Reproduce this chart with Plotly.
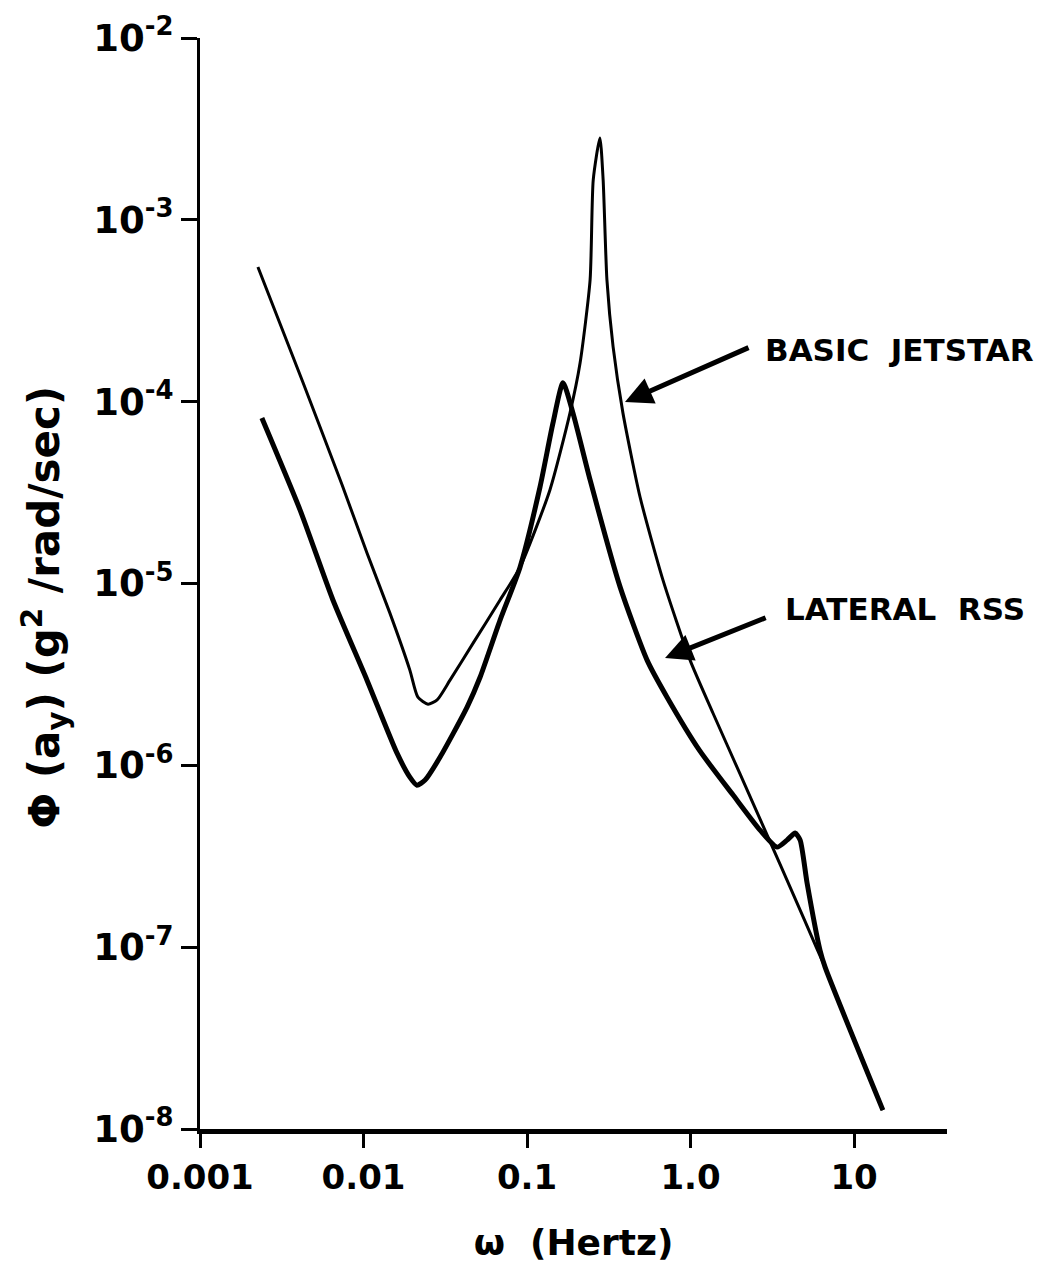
import numpy as np
import plotly.graph_objects as go

# BASIC JETSTAR (thin curve)
jet_freq = [0.00226, 0.00427, 0.0074, 0.0105, 0.0145, 0.0192, 0.0215, 0.0248, 0.0282, 0.0338,
            0.0468, 0.0684, 0.0906, 0.138, 0.183, 0.211, 0.243, 0.254, 0.279, 0.292,
            0.308, 0.336, 0.386, 0.491, 0.679, 0.993, 1.37, 2.01, 2.94, 4.24,
            5.94, 6.65, 15.0]
jet_psd = [5.5e-4, 1.27e-4, 3.48e-5, 1.47e-5, 6.87e-6, 3.34e-6, 2.37e-6, 2.17e-6, 2.29e-6, 2.94e-6,
           4.70e-6, 8.11e-6, 1.23e-5, 3.27e-5, 8.65e-5, 1.63e-4, 4.67e-4, 1.66e-3, 2.82e-3, 1.66e-3,
           4.67e-4, 2.0e-4, 8.65e-5, 2.99e-5, 1.04e-5, 3.79e-6, 1.94e-6, 8.94e-7, 4.13e-7, 1.96e-7,
           9.75e-8, 7.76e-8, 1.27e-8]

# LATERAL RSS (thick curve)
rss_freq = [0.00239, 0.00409, 0.0065, 0.0105, 0.016, 0.0192, 0.0212, 0.0238, 0.0294, 0.043,
            0.0516, 0.0684, 0.0906, 0.120, 0.144, 0.166, 0.191, 0.243, 0.371, 0.542,
            0.718, 1.14, 1.82, 2.66, 3.38, 3.89, 4.36, 4.68, 5.16, 6.19,
            6.65, 15.0]
rss_psd = [8.13e-5, 2.54e-5, 8.11e-6, 2.94e-6, 1.17e-6, 8.61e-7, 7.78e-7, 8.30e-7, 1.11e-6, 2.09e-6,
           3.05e-6, 6.29e-6, 1.23e-5, 3.39e-5, 7.62e-5, 1.27e-4, 8.65e-5, 3.71e-5, 9.55e-6, 3.79e-6,
           2.37e-6, 1.2e-6, 6.86e-7, 4.40e-7, 3.55e-7, 3.88e-7, 4.24e-7, 3.88e-7, 2.25e-7, 9.62e-8,
           7.76e-8, 1.27e-8]

x_tick_vals = [0.001, 0.01, 0.1, 1.0, 10]
x_tick_text = ["0.001", "0.01", "0.1", "1.0", "10"]
y_tick_vals = [1e-2, 1e-3, 1e-4, 1e-5, 1e-6, 1e-7, 1e-8]
y_tick_text = ["10<sup>-2</sup>", "10<sup>-3</sup>", "10<sup>-4</sup>", "10<sup>-5</sup>",
               "10<sup>-6</sup>", "10<sup>-7</sup>", "10<sup>-8</sup>"]

FONT = "DejaVu Sans, Arial"

fig = go.Figure()
fig.add_trace(go.Scatter(x=jet_freq, y=jet_psd, mode="lines", name="BASIC JETSTAR",
                         line=dict(color="black", width=3, shape="spline", smoothing=0.6)))
fig.add_trace(go.Scatter(x=rss_freq, y=rss_psd, mode="lines", name="LATERAL RSS",
                         line=dict(color="black", width=5, shape="spline", smoothing=0.6)))

L = np.log10
# arrows
fig.add_annotation(x=L(0.397), y=L(9.95e-5), ax=L(2.31), ay=L(2.0e-4),
                   xref="x", yref="y", axref="x", ayref="y", text="",
                   showarrow=True, arrowhead=2, arrowsize=1.1, arrowwidth=5, arrowcolor="black")
fig.add_annotation(x=L(0.698), y=L(3.89e-6), ax=L(2.94), ay=L(6.53e-6),
                   xref="x", yref="y", axref="x", ayref="y", text="",
                   showarrow=True, arrowhead=2, arrowsize=1.1, arrowwidth=5, arrowcolor="black")
# labels
fig.add_annotation(x=L(2.77), y=L(1.92e-4), xref="x", yref="y", text="BASIC  JETSTAR",
                   showarrow=False, xanchor="left", yanchor="middle",
                   font=dict(family=FONT, size=31, color="black", weight="bold"))
fig.add_annotation(x=L(3.68), y=L(7.23e-6), xref="x", yref="y", text="LATERAL  RSS",
                   showarrow=False, xanchor="left", yanchor="middle",
                   font=dict(family=FONT, size=31, color="black", weight="bold"))
# y-axis title
fig.add_annotation(x=-0.2075, y=0.479, xref="paper", yref="paper",
                   text="Φ (a<sub>y</sub>) (g<sup>2</sup> /rad/sec)", textangle=-90,
                   showarrow=False, xanchor="center", yanchor="middle",
                   font=dict(family=FONT, size=42, color="black", weight="bold"))

fig.update_layout(
    width=1049, height=1276,
    margin=dict(l=192, r=110, t=30, b=155),
    paper_bgcolor="white", plot_bgcolor="white",
    showlegend=False,
    font=dict(family=FONT, color="black", size=34, weight="bold"),
    xaxis=dict(type="log", range=[-3, L(37)], showgrid=False, zeroline=False,
               showline=True, linewidth=5, linecolor="black", automargin=False,
               ticks="outside", ticklen=14, tickwidth=3, tickcolor="black",
               tickvals=x_tick_vals, ticktext=x_tick_text,
               tickfont=dict(family=FONT, size=34, weight="bold"),
               title=dict(text="ω  (Hertz)", standoff=36,
                          font=dict(family=FONT, size=36, weight="bold"))),
    yaxis=dict(type="log", range=[-8, -2], showgrid=False, zeroline=False,
               showline=True, linewidth=3, linecolor="black", automargin=False,
               ticks="outside", ticklen=16, tickwidth=3, tickcolor="black",
               tickvals=y_tick_vals, ticktext=y_tick_text,
               tickfont=dict(family=FONT, size=37, weight="bold")),
)

fig.write_html("out.html")
